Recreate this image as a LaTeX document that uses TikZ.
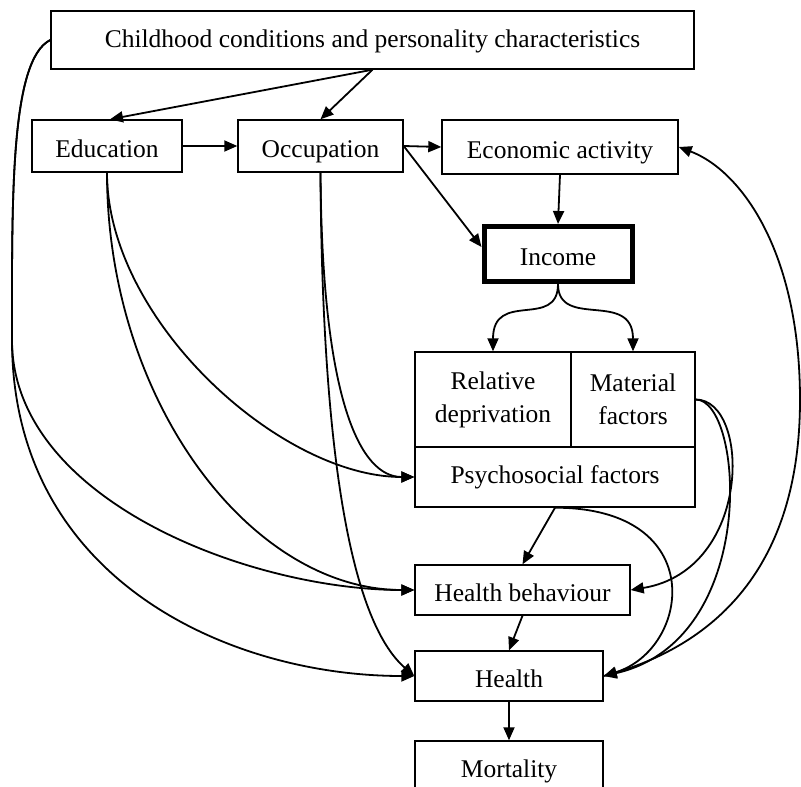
\documentclass[tikz,border=0pt]{standalone}
\usepackage{fontspec}
\setmainfont{Liberation Serif}
\usetikzlibrary{arrows.meta}
\begin{document}
\begin{tikzpicture}[x=1pt,y=-1pt,
  box/.style={draw, line width=1.4pt, inner sep=0pt, font=\fontsize{25.5}{33}\selectfont, align=center},
  low/.style={text height=23pt, text depth=1pt},
  mid/.style={text height=18pt, text depth=4pt},
  hi/.style={text height=17pt, text depth=5pt},
  arr/.style={line width=1.8pt, -{Triangle[length=13pt,width=11pt]}}]
\useasboundingbox (0,0) rectangle (801,787);
\node[box, mid, minimum width=643pt, minimum height=58pt] (child) at (372.5,40) {Childhood conditions and personality characteristics};
\node[box, low, minimum width=150pt, minimum height=52pt] (edu) at (107,146) {Education};
\node[box, low, minimum width=165pt, minimum height=52pt] (occ) at (320.5,146) {Occupation};
\node[box, low, minimum width=236pt, minimum height=54pt] (eco) at (560,147) {Economic activity};
\node[box, low, line width=5pt, minimum width=148pt, minimum height=55pt] (inc) at (558,254) {Income};
\node[box, minimum width=156pt, minimum height=95pt] (rel) at (493,399.5) {Relative\\deprivation};
\node[box, minimum width=124pt, minimum height=95pt] (mat) at (633,399.5) {Material\\factors};
\node[box, hi, minimum width=280pt, minimum height=60pt] (psy) at (555,477) {Psychosocial factors};
\node[box, low, minimum width=215pt, minimum height=50pt] (hb) at (522.5,590) {Health behaviour};
\node[box, low, minimum width=188pt, minimum height=50pt] (hl) at (509,676) {Health};
\node[box, low, minimum width=188pt, minimum height=50pt] (mort) at (509,766) {Mortality};
% top arrows
\draw[arr] (child.south) -- ([xshift=3pt]edu.north);
\draw[arr] (child.south) -- (occ.north);
\draw[arr] (edu.east) -- (occ.west);
\draw[arr] (occ.east) -- (eco.west);
\draw[arr] (occ.east) -- ([yshift=7pt]inc.west);
\draw[arr] (eco.south) -- (inc.north);
% income split
\draw[arr] (inc.south) .. controls +(0,46) and +(0,-62) .. (rel.north);
\draw[arr] (inc.south) .. controls +(0,46) and +(0,-62) .. (mat.north);
% right side
\draw[arr] (mat.east) .. controls +(55,0) and +(122,-20) .. (hb.east);
\draw[arr] (mat.east) .. controls +(48,0) and +(157,-36) .. (hl.east);
\draw[arr] (psy.south) .. controls +(155,0) and +(87,-27) .. (hl.east);
\draw[arr] (psy.south) -- (hb.north);
\draw[arr] (hb.south) -- (hl.north);
\draw[arr] (hl.south) -- (mort.north);
\coordinate (rc) at (800,400);
\draw[arr] (hl.east) .. controls (740,640) and (800,540) .. (rc) .. controls (800,250) and (740,170) .. (eco.east);
% left side
\coordinate (lc) at (12,340);
\draw[arr] (child.west) .. controls (10,60) and (12,200) .. (lc) .. controls (12,500) and (250,590) .. (hb.west);
\draw[arr] (child.west) .. controls (10,60) and (12,200) .. (lc) .. controls (12,580) and (230,676) .. (hl.west);
\draw[arr] (edu.south) .. controls (107,320) and (280,477) .. (psy.west);
\draw[arr] (edu.south) .. controls (107,400) and (250,590) .. (hb.west);
\draw[arr] (occ.south) .. controls (322,400) and (360,477) .. (psy.west);
\draw[arr] (occ.south) .. controls (322,450) and (350,620) .. (hl.west);
\end{tikzpicture}
\end{document}
